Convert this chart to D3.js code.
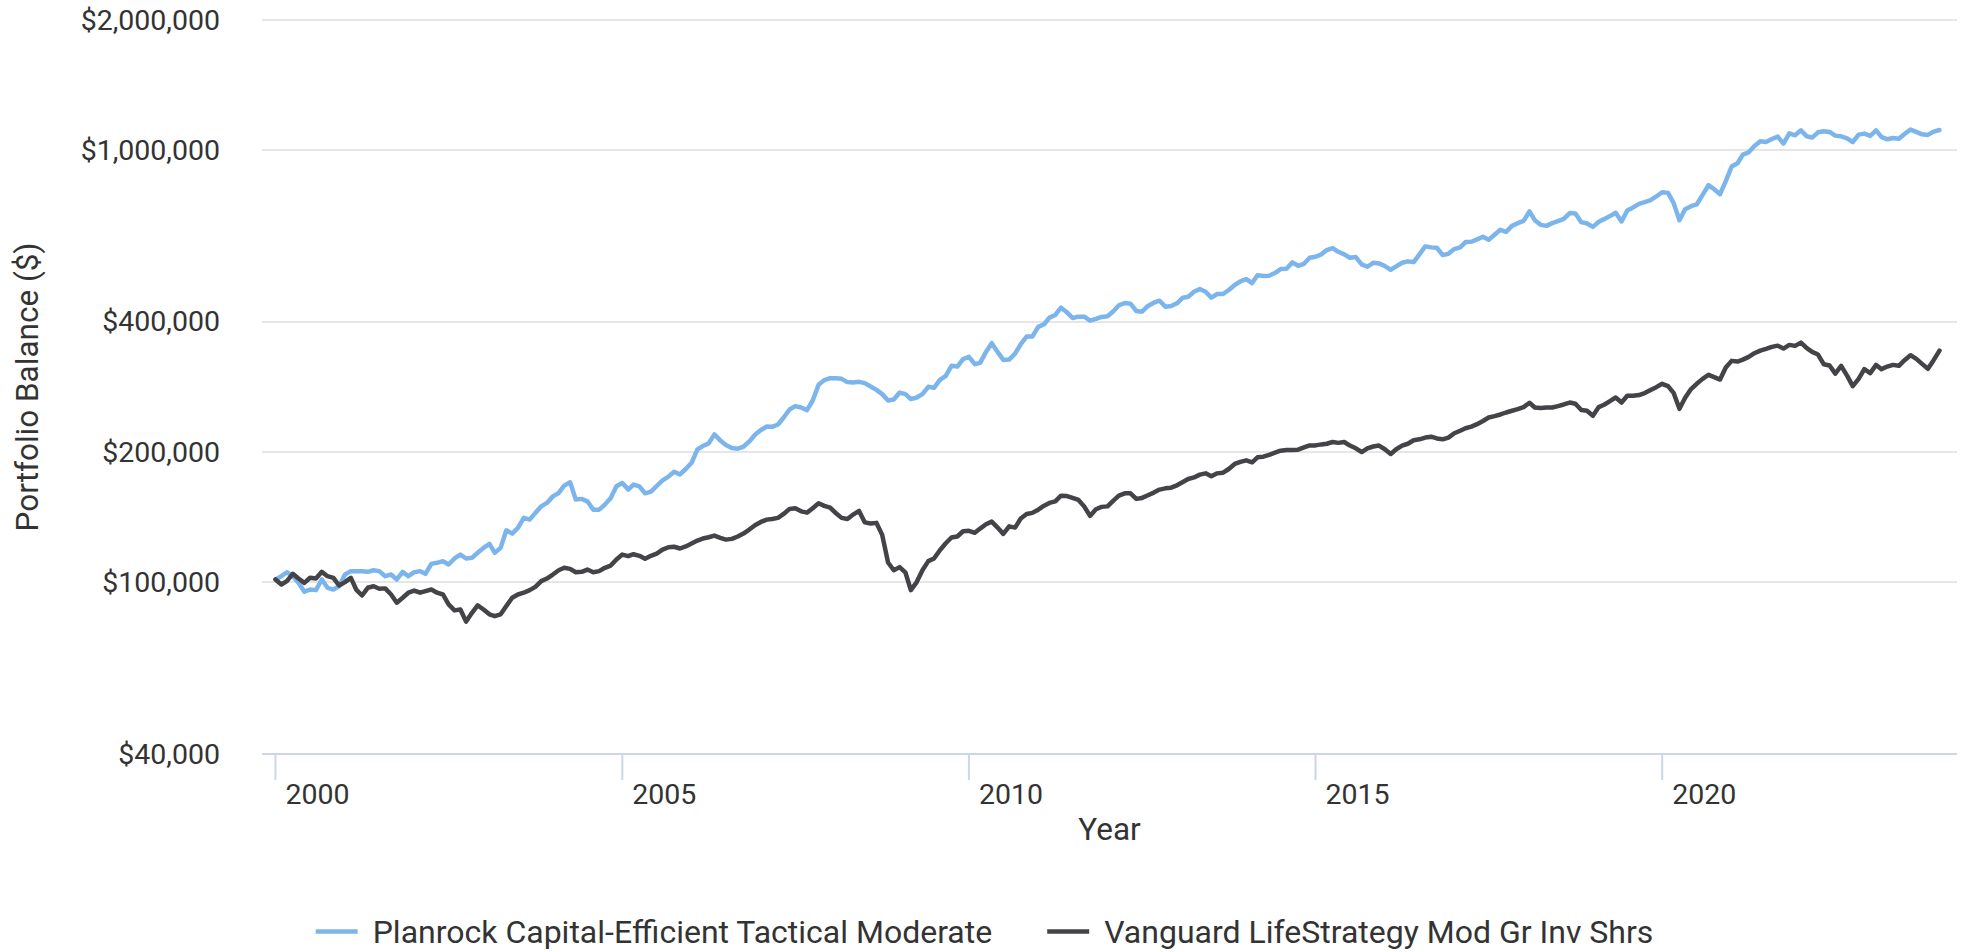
<!DOCTYPE html>
<html>
<head>
<meta charset="utf-8">
<script src="https://cdn.jsdelivr.net/npm/d3@7"></script>
<style>
  body { margin: 0; background: #fff; }
  text { font-family: Roboto, 'Noto Sans', sans-serif; }
</style>
</head>
<body>
<svg></svg>
<script>
// monthly balances, Jan 2000 .. Jan 2024
const planrock = [
  101400, 103200, 105400, 103200, 99600, 95000, 96100, 95800, 101400, 97000, 96100, 97800,
  104100, 106000, 106000, 106000, 105600, 106500, 106000, 103200, 104100, 101400, 105600, 103200,
  105400, 106000, 104500, 110200, 110800, 111800, 109800, 113400, 115800, 113400, 113800, 116900,
  120000, 122600, 116900, 120000, 131800, 129500, 133500, 140800, 139500, 144600, 149700, 152500,
  157900, 160800, 167200, 170200, 155200, 155800, 153800, 147100, 147100, 151100, 156600, 166600,
  169600, 163700, 168100, 166600, 160500, 161900, 166900, 172000, 175400, 180100, 177500, 182700,
  188900, 202800, 206500, 209400, 219700, 212800, 207600, 204300, 203600, 205700, 211600, 219300,
  224900, 229200, 228800, 231600, 240400, 250900, 255500, 253600, 250100, 263200, 286100, 293400,
  296500, 296500, 295400, 290300, 289700, 290700, 288700, 283600, 278600, 272300, 263200, 264600,
  274600, 272300, 265200, 267400, 272300, 283100, 281600, 293800, 300200, 316600, 315400, 328100,
  332100, 319400, 321700, 341000, 357200, 341000, 326800, 327400, 338000, 355300, 370000, 370000,
  389600, 395200, 409300, 415200, 431700, 421200, 408700, 411500, 411500, 402800, 406500, 410800,
  412300, 423400, 437200, 442600, 441000, 424100, 422500, 435600, 443300, 448000, 434000, 435600,
  441900, 455300, 457700, 470000, 476800, 470000, 455300, 464300, 464300, 474300, 487100, 496700,
  502900, 492300, 512900, 511000, 511900, 519200, 530300, 531200, 549600, 539700, 545500, 563200,
  566200, 573500, 586800, 593100, 581500, 573500, 563200, 565300, 543800, 536900, 548400, 546500,
  538900, 528400, 538000, 548400, 552500, 550500, 573500, 598400, 595300, 594000, 571300, 575300,
  589900, 595300, 612300, 613300, 621200, 629800, 619800, 636500, 653600, 646700, 667600, 677300,
  685700, 720800, 688200, 671200, 667600, 677300, 684600, 693000, 714600, 713500, 680900, 676300,
  664100, 682600, 692000, 703300, 715700, 683500, 724900, 736500, 750600, 757400, 765500, 780800,
  798800, 795900, 754600, 688200, 729800, 741500, 748300, 787400, 829100, 811700, 790400, 847000,
  915800, 932000, 976200, 988200, 1021800, 1047700, 1043800, 1060600, 1074300, 1035100, 1093400, 1081800,
  1110800, 1076000, 1068600, 1099100, 1105000, 1101500, 1080000, 1076000, 1064700, 1043800, 1085800, 1091600,
  1078000, 1110800, 1072300, 1058900, 1066400, 1062500, 1089200, 1115000, 1101500, 1087500, 1083900, 1103500,
  1112800
]

const vanguard = [
  101400, 98700, 100500, 104500, 101900, 99600, 102300, 101900, 105600, 103200, 102300, 98200,
  100000, 102300, 96100, 93100, 97000, 97800, 96500, 96700, 93600, 89600, 92000, 94500,
  95600, 94500, 95300, 96100, 94500, 93600, 88800, 86000, 86400, 81000, 84900, 88300,
  86400, 84200, 83400, 84200, 88000, 92000, 93600, 94500, 95800, 97500, 100500, 101900,
  104100, 106500, 107900, 107300, 105400, 105600, 106900, 105400, 106000, 107900, 109200, 112800,
  115800, 114800, 116000, 115000, 113200, 115000, 116400, 118900, 120400, 120700, 119600, 120900,
  122800, 124800, 126100, 127000, 128100, 126600, 125400, 125900, 127500, 129500, 132300, 135400,
  137800, 139500, 140000, 140800, 143800, 147700, 148200, 145800, 144800, 148200, 152200, 150100,
  148700, 144300, 140800, 140000, 143300, 146100, 137500, 136600, 137100, 128600, 111000, 106500,
  108300, 105100, 95800, 100000, 106500, 111800, 113400, 118500, 123000, 126800, 127500, 131100,
  131400, 130000, 133000, 136100, 138000, 133700, 129300, 134600, 133700, 140300, 143800, 144600,
  147100, 150300, 152500, 153800, 158500, 158200, 156600, 154900, 149500, 142300, 147400, 149300,
  149700, 154400, 158500, 160500, 160500, 155800, 156600, 158800, 161100, 163700, 164800, 165400,
  167500, 170500, 173200, 174700, 177300, 178500, 175700, 178500, 179100, 182700, 187700, 189700,
  191300, 189300, 194400, 195100, 196900, 199300, 201400, 202100, 202100, 202500, 205000, 207200,
  207200, 208300, 209000, 211000, 210000, 211000, 207000, 204000, 200000, 204000, 206000, 207000,
  203000, 198000, 203000, 207000, 209000, 213000, 214000, 216000, 217000, 215000, 214000, 216000,
  221000, 224000, 227000, 229000, 232000, 236000, 240400, 242200, 244300, 246900, 249200, 251400,
  254100, 260000, 253600, 252800, 253600, 253600, 255500, 257700, 260400, 258600, 250100, 249200,
  242600, 254100, 257300, 262400, 267400, 260400, 269900, 269900, 270900, 273800, 278200, 282600,
  287700, 284100, 274200, 251800, 267000, 279700, 287700, 295400, 301800, 298100, 294300, 313700,
  325100, 324000, 327300, 332100, 338700, 343400, 346500, 350200, 352600, 347100, 354000, 352100,
  358300, 347800, 341000, 336300, 319400, 317100, 303800, 316600, 300600, 284100, 295400, 311100,
  304500, 318200, 311100, 315400, 318200, 316600, 326300, 335100, 328600, 319900, 311600, 326300,
  343400
]

const seriesNames = ['Planrock Capital-Efficient Tactical Moderate', 'Vanguard LifeStrategy Mod Gr Inv Shrs']
const seriesColors = ['#7cb5ec', '#434348']
const yTicks = [40000, 100000, 200000, 400000, 1000000, 2000000]
const xTickYears = [2000, 2005, 2010, 2015, 2020]

const width = 1969,
  height = 952

const plotLeft = 262,
  plotRight = 1957

const months = d3.timeMonth.range(new Date(2000, 0, 1), new Date(2024, 1, 1))

const x = d3.scaleTime()
  .domain([new Date(2000, 0, 1), new Date(2024, 0, 1)])
  .range([275.5, 1939.5])

const y = d3.scaleLog()
  .domain([40000, 2000000])
  .range([754, 20])

const money = d3.format('$,')

const svg = d3.select('svg')
  .attr('width', width)
  .attr('height', height)

svg.append('rect')
  .attr('width', width)
  .attr('height', height)
  .attr('fill', '#fff')

// gridlines
svg.append('g')
  .selectAll('line')
  .data(yTicks.slice(1))
  .enter().append('line')
  .attr('x1', plotLeft)
  .attr('x2', plotRight)
  .attr('y1', d => y(d))
  .attr('y2', d => y(d))
  .attr('stroke', '#e6e6e6')
  .attr('stroke-width', 2)

// y labels
svg.append('g')
  .selectAll('text')
  .data(yTicks)
  .enter().append('text')
  .attr('x', 220)
  .attr('y', d => y(d) + 9.5)
  .attr('text-anchor', 'end')
  .attr('font-size', 28.5)
  .attr('fill', '#333')
  .text(d => money(d))

// x axis line + ticks
svg.append('line')
  .attr('x1', plotLeft)
  .attr('x2', plotRight)
  .attr('y1', y(40000))
  .attr('y2', y(40000))
  .attr('stroke', '#ccd6eb')
  .attr('stroke-width', 2)

const xt = svg.append('g')
  .selectAll('g')
  .data(xTickYears)
  .enter().append('g')
  .attr('transform', d => `translate(${x(new Date(d, 0, 1))},0)`)

xt.append('line')
  .attr('y1', y(40000))
  .attr('y2', y(40000) + 26)
  .attr('stroke', '#ccd6eb')
  .attr('stroke-width', 2)

xt.append('text')
  .attr('x', 10)
  .attr('y', 804)
  .attr('font-size', 28.5)
  .attr('fill', '#333')
  .text(d => d)

// axis titles
svg.append('text')
  .attr('transform', 'translate(38,387) rotate(-90)')
  .attr('text-anchor', 'middle')
  .attr('font-size', 31.5)
  .attr('fill', '#333')
  .text('Portfolio Balance ($)')

svg.append('text')
  .attr('x', (plotLeft + plotRight) / 2)
  .attr('y', 840)
  .attr('text-anchor', 'middle')
  .attr('font-size', 31.5)
  .attr('fill', '#333')
  .text('Year')

// lines
const line = d3.line()
  .x((d, i) => x(months[i]))
  .y(d => y(d))

svg.append('g')
  .selectAll('path')
  .data([planrock, vanguard])
  .enter().append('path')
  .attr('d', line)
  .attr('fill', 'none')
  .attr('stroke', (d, i) => seriesColors[i])
  .attr('stroke-width', 4.5)
  .attr('stroke-linejoin', 'round')
  .attr('stroke-linecap', 'round')

// legend
const legend = svg.append('g')
let lx = 0
seriesNames.forEach((name, i) => {
  const item = legend.append('g').attr('transform', `translate(${lx},0)`)
  item.append('line')
    .attr('x1', 0)
    .attr('x2', 42)
    .attr('stroke', seriesColors[i])
    .attr('stroke-width', 4.5)
  const t = item.append('text')
    .attr('x', 57)
    .attr('y', 11.5)
    .attr('font-size', 32)
    .attr('fill', '#333')
    .text(name)
  lx += 57 + t.node().getComputedTextLength() + 55
})
legend.attr('transform', `translate(${(width - (lx - 55)) / 2},931.5)`)
</script>
</body>
</html>
